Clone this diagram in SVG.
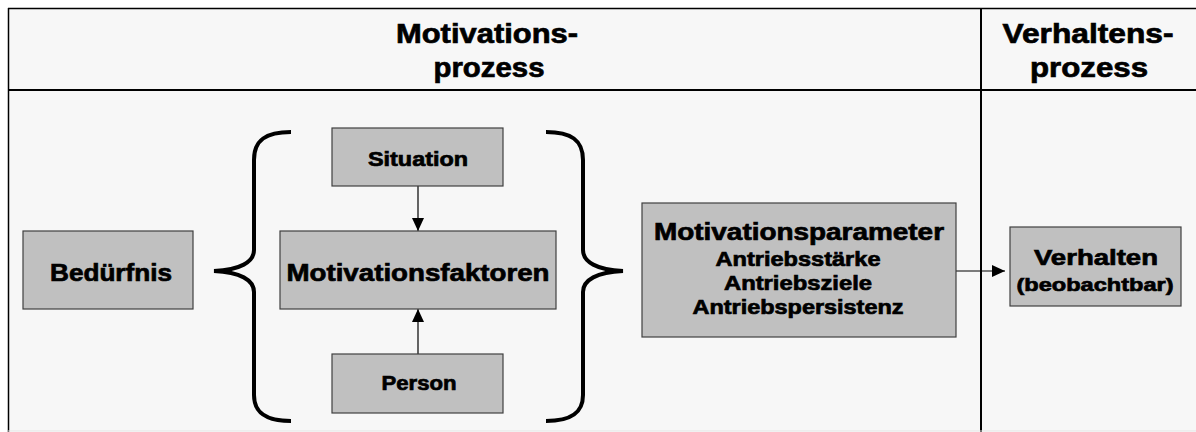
<svg xmlns="http://www.w3.org/2000/svg" width="1196" height="432" viewBox="0 0 1196 432">
  <style>
    .box { fill: #c0c0c0; stroke: #404040; stroke-width: 1.2; }
    .t { font-family: "Liberation Sans", Arial, sans-serif; font-weight: bold; fill: #000; stroke: #000; stroke-width: 0.7; text-anchor: middle; }
    .brace { fill: none; stroke: #000; stroke-width: 4; stroke-linecap: butt; }
    .edge { stroke: #000; stroke-width: 1.2; fill: none; marker-end: url(#arrow); }
  </style>
  <defs>
    <marker id="arrow" markerUnits="userSpaceOnUse" markerWidth="14" markerHeight="12" refX="13" refY="6" orient="auto">
      <path d="M0,0 L13,6 L0,12 z" fill="#000"/>
    </marker>
  </defs>

  <!-- page background and table frame -->
  <rect x="0" y="0" width="1196" height="432" fill="#ffffff"/>
  <rect x="8" y="8" width="1200" height="423" fill="#f7f7f7"/>
  <g id="frame" stroke="#000">
    <line x1="8" y1="8.5" x2="1196" y2="8.5" stroke-width="1.5"/>
    <line x1="8.5" y1="8" x2="8.5" y2="432" stroke-width="1.5"/>
    <line x1="8" y1="90" x2="1196" y2="90" stroke-width="2"/>
    <line x1="981" y1="8" x2="981" y2="432" stroke-width="2"/>
    <line x1="8" y1="431" x2="1196" y2="431" stroke="#e2e2e2" stroke-width="1"/>
  </g>

  <!-- column headings -->
  <g id="header-motivation">
    <text class="t" x="487" y="43" font-size="28" textLength="182" lengthAdjust="spacingAndGlyphs">Motivations-</text>
    <text class="t" x="489" y="77" font-size="28" textLength="111" lengthAdjust="spacingAndGlyphs">prozess</text>
  </g>
  <g id="header-verhalten">
    <text class="t" x="1088" y="43" font-size="28" textLength="171" lengthAdjust="spacingAndGlyphs">Verhaltens-</text>
    <text class="t" x="1089" y="77" font-size="28" textLength="118" lengthAdjust="spacingAndGlyphs">prozess</text>
  </g>

  <!-- braces -->
  <g id="brace-left">
    <path class="brace" d="M291,132 C266,132 254,140 254,160 L254,250 C254,262 240,270 214,271 C240,272 254,280 254,292 L254,395 C254,413 266,421 291,421"/>
  </g>
  <g id="brace-right">
    <path class="brace" d="M546,132 C571,132 583,140 583,160 L583,250 C583,262 597,270 623,271 C597,272 583,280 583,292 L583,395 C583,413 571,421 546,421"/>
  </g>

  <!-- connectors -->
  <g id="connectors">
    <line class="edge" x1="418" y1="186" x2="418" y2="231"/>
    <line class="edge" x1="418" y1="354" x2="418" y2="309"/>
    <line class="edge" x1="956" y1="271" x2="1005" y2="271"/>
  </g>

  <!-- nodes -->
  <g id="beduerfnis">
    <rect class="box" x="23" y="231" width="170" height="78"/>
    <text class="t" x="111" y="281" font-size="24" textLength="122" lengthAdjust="spacingAndGlyphs">Bedürfnis</text>
  </g>
  <g id="situation">
    <rect class="box" x="332" y="128" width="171" height="58"/>
    <text class="t" x="418" y="166" font-size="20" textLength="100" lengthAdjust="spacingAndGlyphs">Situation</text>
  </g>
  <g id="motivationsfaktoren">
    <rect class="box" x="280" y="231" width="276" height="78"/>
    <text class="t" x="418" y="281" font-size="24" textLength="263" lengthAdjust="spacingAndGlyphs">Motivationsfaktoren</text>
  </g>
  <g id="person">
    <rect class="box" x="332" y="354" width="171" height="59"/>
    <text class="t" x="419" y="390" font-size="20" textLength="75" lengthAdjust="spacingAndGlyphs">Person</text>
  </g>
  <g id="motivationsparameter">
    <rect class="box" x="642" y="203" width="314" height="134"/>
    <text class="t" x="799" y="240" font-size="24" textLength="290" lengthAdjust="spacingAndGlyphs">Motivationsparameter</text>
    <text class="t" x="798" y="266" font-size="20" textLength="165" lengthAdjust="spacingAndGlyphs">Antriebsstärke</text>
    <text class="t" x="798" y="290" font-size="20" textLength="148" lengthAdjust="spacingAndGlyphs">Antriebsziele</text>
    <text class="t" x="798" y="314" font-size="20" textLength="211" lengthAdjust="spacingAndGlyphs">Antriebspersistenz</text>
  </g>
  <g id="verhalten">
    <rect class="box" x="1010" y="227" width="171" height="79"/>
    <text class="t" x="1096" y="265" font-size="22" textLength="124" lengthAdjust="spacingAndGlyphs">Verhalten</text>
    <text class="t" x="1095" y="291" font-size="19" textLength="157" lengthAdjust="spacingAndGlyphs">(beobachtbar)</text>
  </g>
</svg>
